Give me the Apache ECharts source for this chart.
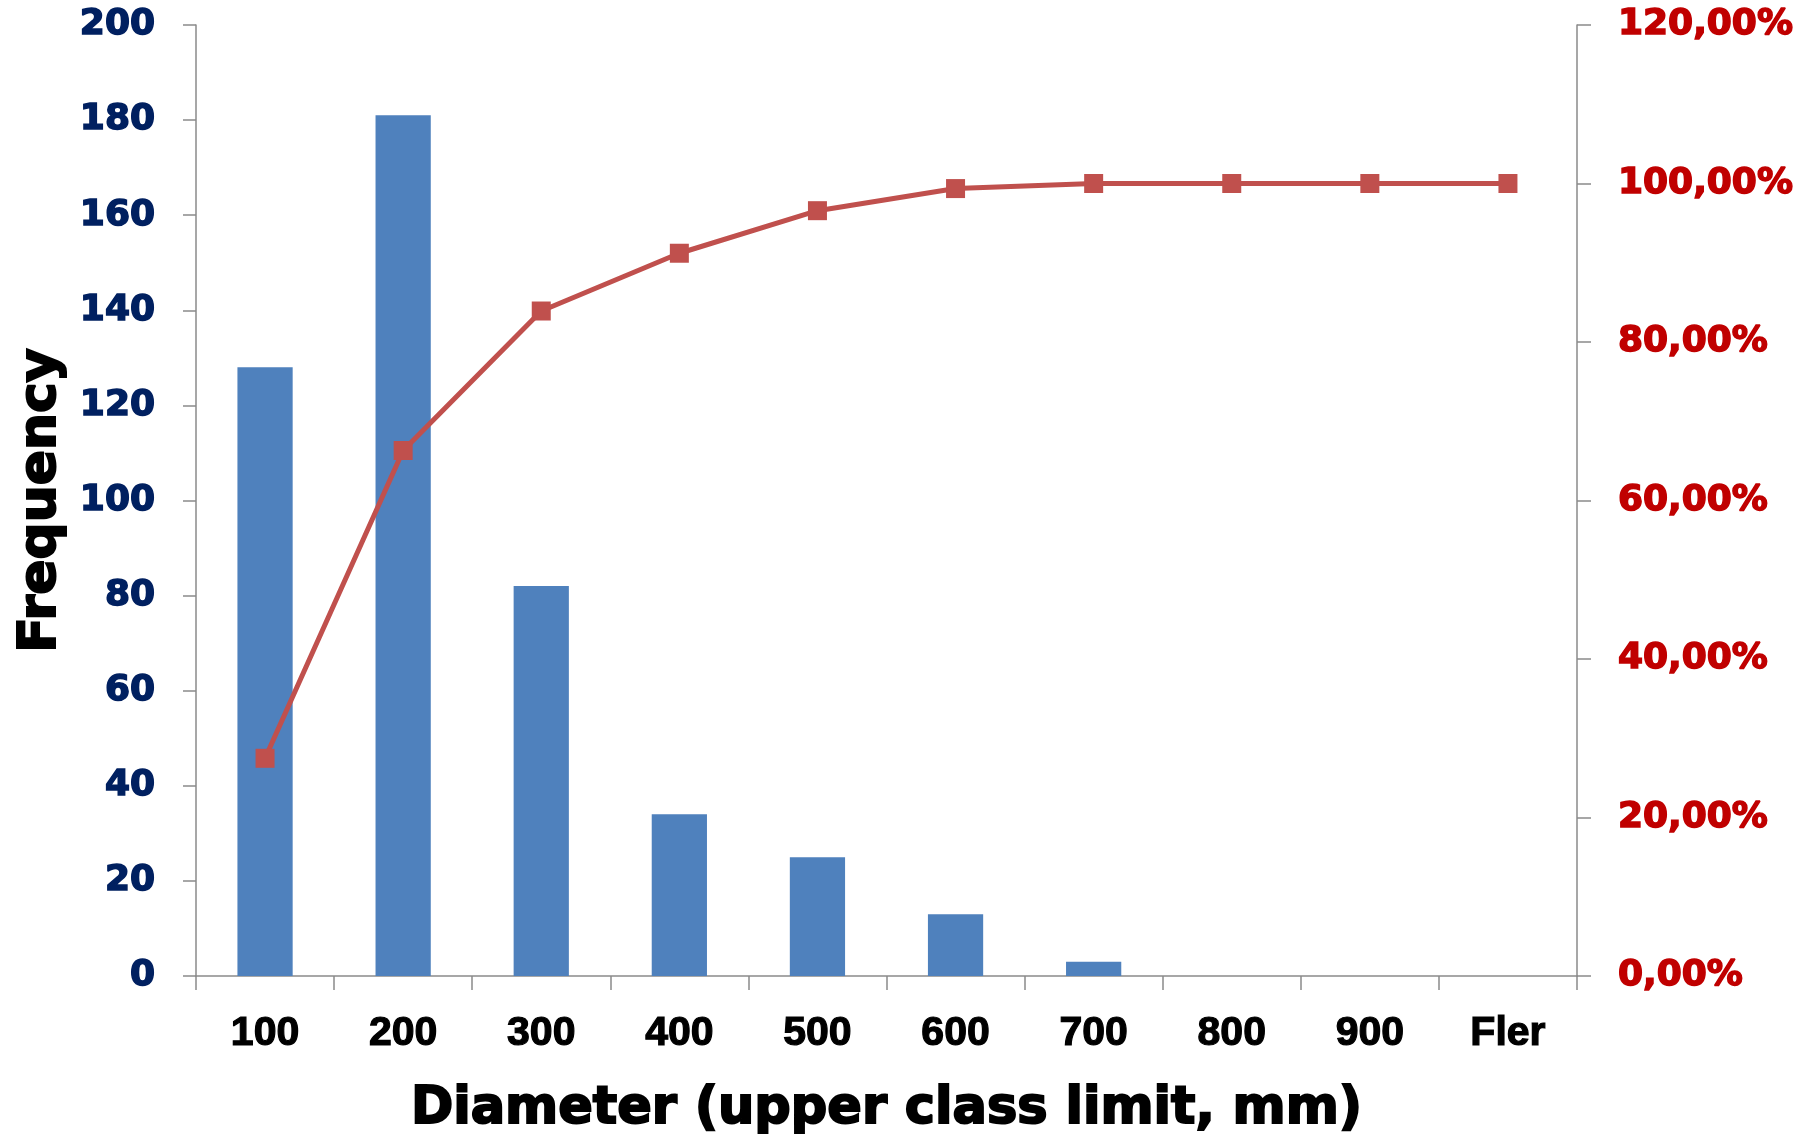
<!DOCTYPE html>
<html>
<head>
<meta charset="utf-8">
<script src="https://cdn.jsdelivr.net/npm/echarts@6/dist/echarts.min.js"></script>
<style>
  html, body { margin: 0; padding: 0; background: #ffffff; }
  #chart { width: 1800px; height: 1134px; }
</style>
</head>
<body>
<div id="chart"></div>
<script>
// Diameter classes (upper class limit, mm)
const categories = ['100', '200', '300', '400', '500', '600', '700', '800', '900', 'Fler'];
// Number of stems per class
const frequency = [128, 181, 82, 34, 25, 13, 3, 0, 0, 0];
// Cumulative share, percent
const cumulative = [27.47, 66.31, 83.91, 91.20, 96.57, 99.36, 100.00, 100.00, 100.00, 100.00];
// Left axis ticks
const freqMin = 0, freqMax = 200, freqStep = 20;
// Right axis ticks (percent)
const pctMin = 0, pctMax = 120, pctStep = 20;

const axisGrey = '#8a8a8a';
const heavyFont = '"DejaVu Sans", sans-serif';

// Bold text thickened with a same-colour outline for a black-weight look
function heavy(color, size, stroke, family) {
  return {
    fontFamily: family || heavyFont, fontWeight: 'bold', fontSize: size, color: color,
    textBorderColor: color, textBorderWidth: stroke
  };
}

const chart = echarts.init(document.getElementById('chart'), null, { renderer: 'canvas' });

chart.setOption({
  animation: false,
  backgroundColor: '#ffffff',
  grid: { left: 196, right: 223, top: 25, bottom: 158, containLabel: false, outerBoundsMode: 'none' },
  xAxis: {
    type: 'category',
    data: categories,
    boundaryGap: true,
    name: 'Diameter (upper class limit, mm)',
    nameLocation: 'middle',
    nameGap: 108,
    nameTextStyle: heavy('#000000', 51, 2),
    axisLine: { show: true, lineStyle: { color: axisGrey, width: 1.5 } },
    axisTick: { show: true, alignWithLabel: false, length: 14, lineStyle: { color: axisGrey, width: 1.5 } },
    axisLabel: Object.assign({ interval: 0, margin: 37 },
      heavy('#000000', 41, 1.2, '"Liberation Sans", Arial, sans-serif')),
    splitLine: { show: false }
  },
  yAxis: [
    {
      type: 'value',
      position: 'left',
      min: freqMin, max: freqMax, interval: freqStep,
      name: 'Frequency',
      nameLocation: 'middle',
      nameRotate: 90,
      nameGap: 127,
      nameTextStyle: heavy('#000000', 52, 2),
      axisLine: { show: true, lineStyle: { color: axisGrey, width: 1.5 } },
      axisTick: { show: true, inside: false, length: 13, lineStyle: { color: axisGrey, width: 1.5 } },
      axisLabel: Object.assign({ margin: 41 }, heavy('#002060', 36, 1.5)),
      splitLine: { show: false }
    },
    {
      type: 'value',
      position: 'right',
      min: pctMin, max: pctMax, interval: pctStep,
      axisLine: { show: true, lineStyle: { color: axisGrey, width: 1.5 } },
      axisTick: { show: true, inside: false, length: 14, lineStyle: { color: axisGrey, width: 1.5 } },
      axisLabel: Object.assign({
        margin: 41,
        formatter: v => v.toFixed(2).replace('.', ',') + '%'
      }, heavy('#C00000', 36, 1.5)),
      splitLine: { show: false }
    }
  ],
  series: [
    {
      name: 'Frequency',
      type: 'bar',
      yAxisIndex: 0,
      data: frequency,
      barWidth: '40%',
      itemStyle: { color: '#4F81BD', borderWidth: 0 }
    },
    {
      name: 'Cumulative %',
      type: 'line',
      yAxisIndex: 1,
      data: cumulative,
      symbol: 'rect',
      symbolSize: 19,
      showAllSymbol: true,
      lineStyle: { color: '#C0504D', width: 5 },
      itemStyle: { color: '#C0504D' },
      z: 5
    }
  ]
});
</script>
</body>
</html>
